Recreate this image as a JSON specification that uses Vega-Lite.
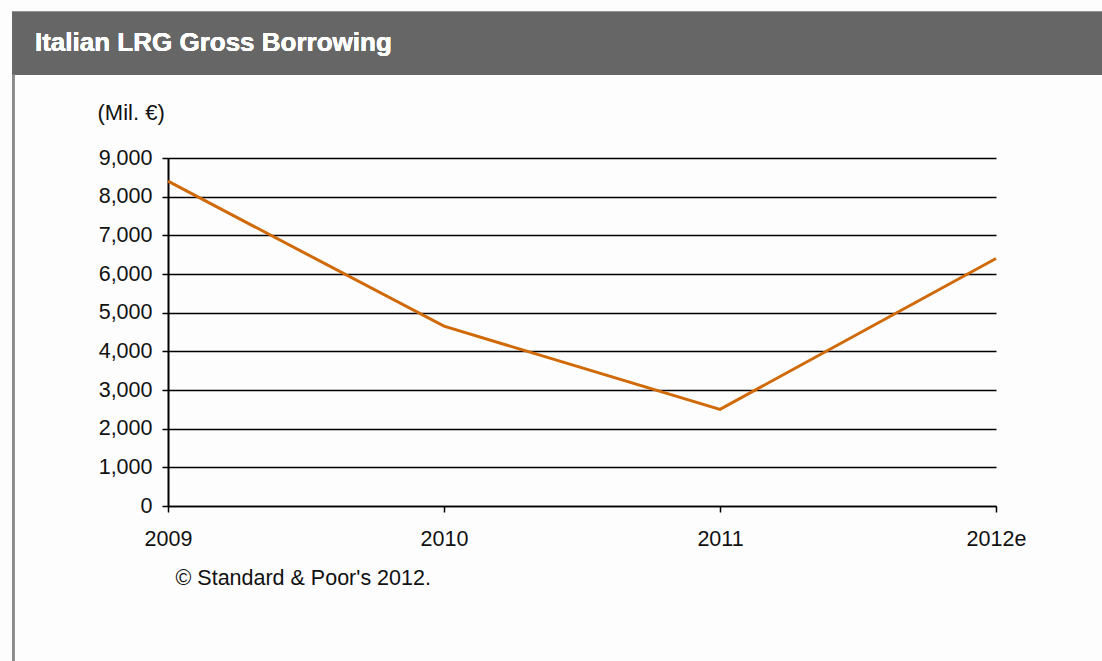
{
  "$schema": "https://vega.github.io/schema/vega-lite/v6.json",
  "autosize": "none",
  "width": 828,
  "height": 348,
  "padding": {"left": 168, "top": 158, "right": 106, "bottom": 155},
  "background": "#fdfdfd",
  "config": {"view": {"stroke": null}},
  "data": {
    "values": [
      {"year": 2009, "value": 8400},
      {"year": 2010, "value": 4650},
      {"year": 2011, "value": 2500},
      {"year": 2012, "value": 6400}
    ]
  },
  "encoding": {
    "x": {
      "field": "year",
      "type": "quantitative",
      "scale": {"domain": [2009, 2012], "nice": false, "zero": false},
      "axis": {
        "values": [2009, 2010, 2011, 2012],
        "labelExpr": "datum.value == 2012 ? '2012e' : datum.value + ''",
        "labelOverlap": false,
        "grid": false,
        "domainColor": "#000000",
        "domainWidth": 1.5,
        "tickColor": "#000000",
        "tickWidth": 1.5,
        "tickSize": 6,
        "labelPadding": 16,
        "labelFont": "Liberation Sans",
        "labelFontSize": 21.5,
        "labelColor": "#111111",
        "labelFlush": false,
        "title": "© Standard & Poor's 2012.",
        "titleFont": "Liberation Sans",
        "titleFontSize": 21.5,
        "titleFontWeight": "normal",
        "titleColor": "#111111",
        "titleAnchor": "start",
        "titleAlign": "left",
        "titleBaseline": "middle",
        "titleX": 7,
        "titleY": 72
      }
    },
    "y": {
      "field": "value",
      "type": "quantitative",
      "scale": {"domain": [0, 9000], "nice": false},
      "axis": {
        "values": [0, 1000, 2000, 3000, 4000, 5000, 6000, 7000, 8000, 9000],
        "labelExpr": "format(datum.value, ',')",
        "labelOverlap": false,
        "grid": true,
        "gridColor": "#000000",
        "gridWidth": 1.5,
        "gridOpacity": 1,
        "domainColor": "#000000",
        "domainWidth": 2,
        "tickColor": "#000000",
        "tickWidth": 1.5,
        "tickSize": 6,
        "labelPadding": 10,
        "labelFont": "Liberation Sans",
        "labelFontSize": 21.5,
        "labelColor": "#111111",
        "title": "(Mil. €)",
        "titleFont": "Liberation Sans",
        "titleFontSize": 22,
        "titleFontWeight": "normal",
        "titleColor": "#111111",
        "titleAngle": 0,
        "titleAlign": "left",
        "titleBaseline": "middle",
        "titleX": -71,
        "titleY": -46
      }
    }
  },
  "layer": [
    {
      "mark": {"type": "rect", "color": "#666666", "clip": false},
      "encoding": {
        "x": {"datum": 2008.435, "type": "quantitative"},
        "x2": {"datum": 2012.4},
        "y": {"datum": 12780, "type": "quantitative"},
        "y2": {"datum": 11150}
      }
    },
    {
      "mark": {"type": "rule", "color": "#888888", "strokeWidth": 2, "clip": false},
      "encoding": {
        "x": {"datum": 2008.44, "type": "quantitative"},
        "y": {"datum": 11150, "type": "quantitative"},
        "y2": {"datum": -4100}
      }
    },
    {
      "mark": {
        "type": "text",
        "text": "Italian LRG Gross Borrowing",
        "color": "#ffffff",
        "font": "Liberation Sans",
        "fontSize": 26,
        "fontWeight": "bold",
        "align": "left",
        "baseline": "middle",
        "clip": false
      },
      "encoding": {
        "x": {"datum": 2008.518, "type": "quantitative"},
        "y": {"datum": 11980, "type": "quantitative"}
      }
    },
    {
      "mark": {"type": "line", "color": "#D06A08", "strokeWidth": 3}
    }
  ]
}
